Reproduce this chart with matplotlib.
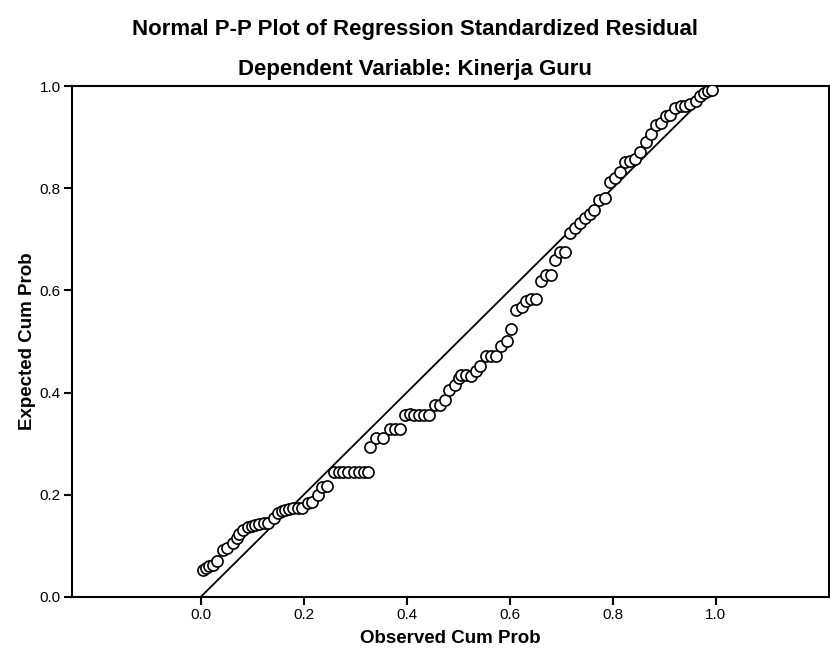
import matplotlib
matplotlib.use("Agg")
import matplotlib.pyplot as plt

plt.rcParams['font.family'] = ['Liberation Sans', 'DejaVu Sans']

title_line1 = "Normal P-P Plot of Regression Standardized Residual"
title_line2 = "Dependent Variable: Kinerja Guru"
x_label = "Observed Cum Prob"
y_label = "Expected Cum Prob"

tick_values = [0.0, 0.2, 0.4, 0.6, 0.8, 1.0]
tick_labels = ["0.0", "0.2", "0.4", "0.6", "0.8", "1.0"]

observed_cum_prob = [
    0.004, 0.010, 0.017, 0.023, 0.032, 0.043, 0.051, 0.063, 0.070, 0.075,
    0.083, 0.091, 0.099, 0.106, 0.114, 0.122, 0.130, 0.142, 0.150, 0.157,
    0.164, 0.172, 0.180, 0.189, 0.197, 0.209, 0.217, 0.227, 0.235, 0.245,
    0.258, 0.268, 0.277, 0.287, 0.297, 0.307, 0.317, 0.324, 0.329, 0.341,
    0.355, 0.367, 0.378, 0.388, 0.396, 0.406, 0.414, 0.424, 0.434, 0.443,
    0.455, 0.465, 0.475, 0.483, 0.493, 0.501, 0.505, 0.515, 0.525, 0.535,
    0.543, 0.555, 0.564, 0.574, 0.584, 0.594, 0.602, 0.613, 0.623, 0.632,
    0.642, 0.652, 0.660, 0.670, 0.680, 0.688, 0.698, 0.708, 0.717, 0.727,
    0.736, 0.746, 0.756, 0.764, 0.774, 0.786, 0.794, 0.804, 0.814, 0.824,
    0.834, 0.844, 0.854, 0.864, 0.874, 0.884, 0.894, 0.904, 0.912, 0.922,
    0.932, 0.941, 0.951, 0.961, 0.969, 0.977, 0.985, 0.993,
]
expected_cum_prob = [
    0.053, 0.056, 0.060, 0.063, 0.070, 0.092, 0.095, 0.106, 0.115, 0.123,
    0.132, 0.136, 0.138, 0.141, 0.143, 0.144, 0.145, 0.155, 0.165, 0.168,
    0.171, 0.173, 0.174, 0.174, 0.174, 0.183, 0.186, 0.199, 0.215, 0.217,
    0.245, 0.245, 0.245, 0.245, 0.245, 0.244, 0.244, 0.244, 0.293, 0.312,
    0.312, 0.329, 0.329, 0.329, 0.356, 0.358, 0.357, 0.357, 0.357, 0.357,
    0.376, 0.376, 0.386, 0.405, 0.414, 0.428, 0.434, 0.434, 0.433, 0.443,
    0.453, 0.472, 0.472, 0.471, 0.491, 0.500, 0.524, 0.561, 0.568, 0.580,
    0.583, 0.583, 0.618, 0.630, 0.630, 0.659, 0.676, 0.676, 0.713, 0.723,
    0.732, 0.742, 0.749, 0.757, 0.776, 0.780, 0.813, 0.819, 0.832, 0.852,
    0.853, 0.857, 0.870, 0.890, 0.907, 0.923, 0.928, 0.942, 0.944, 0.957,
    0.961, 0.961, 0.964, 0.970, 0.981, 0.987, 0.991, 0.993,
]
reference_line = [0.0, 1.0]

fig = plt.figure(figsize=(8.3, 6.53), dpi=100)
ax = fig.add_axes([0.0867, 0.0858, 0.912, 0.7825])

ax.plot(reference_line, reference_line, color='black', linewidth=1.3, zorder=2)
ax.plot(observed_cum_prob, expected_cum_prob, linestyle='none', marker='o',
        markersize=8, markerfacecolor='white', markeredgecolor='black',
        markeredgewidth=1.2, zorder=3)

ax.set_xlim(-0.25, 1.22)
ax.set_ylim(0.0, 1.0)
ax.set_xticks(tick_values)
ax.set_xticklabels(tick_labels)
ax.set_yticks(tick_values)
ax.set_yticklabels(tick_labels)
ax.tick_params(axis='both', direction='out', length=6, width=1.5,
               labelsize=11, colors='black', pad=2)
for sp in ax.spines.values():
    sp.set_linewidth(1.5)
    sp.set_color('black')

ax.set_xlabel(x_label, fontsize=13.5, fontweight='bold', labelpad=6)
ax.set_ylabel(y_label, fontsize=13.5, fontweight='bold', labelpad=3)

fig.text(0.5, 1 - 30 / 653, title_line1, ha='center', va='center',
         fontsize=16, fontweight='bold')
fig.text(0.5, 1 - 70 / 653, title_line2, ha='center', va='center',
         fontsize=16, fontweight='bold')

fig.savefig("out.png", dpi=100)
